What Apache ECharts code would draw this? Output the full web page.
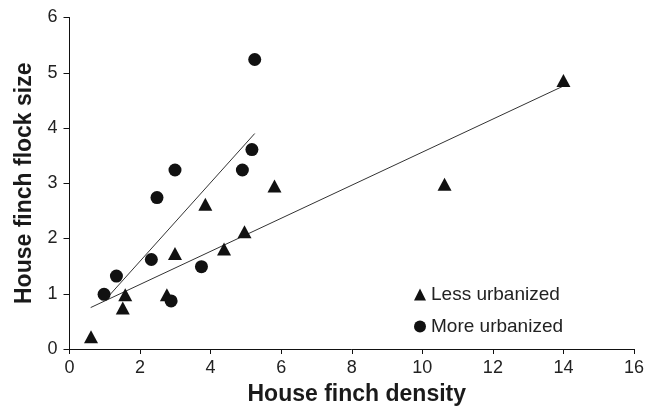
<!DOCTYPE html>
<html>
<head>
<meta charset="utf-8">
<script src="https://cdn.jsdelivr.net/npm/echarts@6/dist/echarts.min.js"></script>
<style>html,body{margin:0;padding:0;background:#fff;}#c{width:657px;height:411px;}</style>
</head>
<body>
<div id="c"></div>
<script>
const xTicks = [0, 2, 4, 6, 8, 10, 12, 14, 16];
const yTicks = [0, 1, 2, 3, 4, 5, 6];
const lessUrbanized = [
  [0.61, 0.22], [1.51, 0.74], [1.58, 0.98], [2.76, 0.98], [2.99, 1.73],
  [3.85, 2.62], [4.38, 1.81], [4.96, 2.12], [5.81, 2.95], [10.63, 2.98], [14.0, 4.86]
];
const moreUrbanized = [
  [0.98, 0.99], [1.33, 1.32], [2.32, 1.62], [2.48, 2.74], [2.88, 0.87],
  [3.74, 1.49], [2.99, 3.24], [4.90, 3.24], [5.17, 3.61], [5.25, 5.24]
];
const lessFit = [[0.60, 0.75], [14.0, 4.76]];
const moreFit = [[1.03, 0.90], [5.25, 3.90]];

const chart = echarts.init(document.getElementById('c'));
const tickFont = { fontFamily: 'Liberation Sans', fontSize: 18, color: '#222' };
const titleFont = { fontFamily: 'Liberation Sans', fontSize: 23, fontWeight: 'bold', color: '#1a1a1a' };
chart.setOption({
  animation: false,
  backgroundColor: '#fff',
  grid: { left: 69.5, right: 23, top: 17.5, bottom: 62, containLabel: false },
  xAxis: {
    type: 'value', min: xTicks[0], max: xTicks[xTicks.length - 1], interval: 2,
    name: 'House finch density', nameLocation: 'middle', nameGap: 34,
    nameTextStyle: Object.assign({ padding: [0, 0, 0, 10] }, titleFont),
    axisLine: { lineStyle: { color: '#111', width: 1 } },
    axisTick: { show: true, length: 5, lineStyle: { color: '#111' } },
    axisLabel: Object.assign({ margin: 10 }, tickFont),
    splitLine: { show: false }
  },
  yAxis: {
    type: 'value', min: yTicks[0], max: yTicks[yTicks.length - 1], interval: 1,
    name: 'House finch flock size', nameLocation: 'middle', nameGap: 30,
    nameTextStyle: titleFont,
    axisLine: { show: true, lineStyle: { color: '#111', width: 1 } },
    axisTick: { show: true, length: 6, lineStyle: { color: '#111' } },
    axisLabel: Object.assign({ margin: 12 }, tickFont),
    splitLine: { show: false }
  },
  legend: {
    orient: 'vertical', left: 409, top: 280, itemGap: 13,
    itemWidth: 12, itemHeight: 12,
    textStyle: { fontFamily: 'Liberation Sans', fontSize: 19, color: '#222' },
    data: [
      { name: 'Less urbanized', icon: 'triangle', itemStyle: { color: '#111' } },
      { name: 'More urbanized', icon: 'circle', itemStyle: { color: '#111' } }
    ]
  },
  series: [
    { type: 'line', data: lessFit, showSymbol: false, symbol: 'none', lineStyle: { color: '#333', width: 1 }, z: 1, silent: true },
    { type: 'line', data: moreFit, showSymbol: false, symbol: 'none', lineStyle: { color: '#333', width: 1 }, z: 1, silent: true },
    { name: 'Less urbanized', type: 'scatter', symbol: 'triangle', symbolSize: [14, 13], data: lessUrbanized, itemStyle: { color: '#111', opacity: 1 }, z: 3 },
    { name: 'More urbanized', type: 'scatter', symbol: 'circle', symbolSize: 13, data: moreUrbanized, itemStyle: { color: '#111', opacity: 1 }, z: 3 }
  ]
});
</script>
</body>
</html>
